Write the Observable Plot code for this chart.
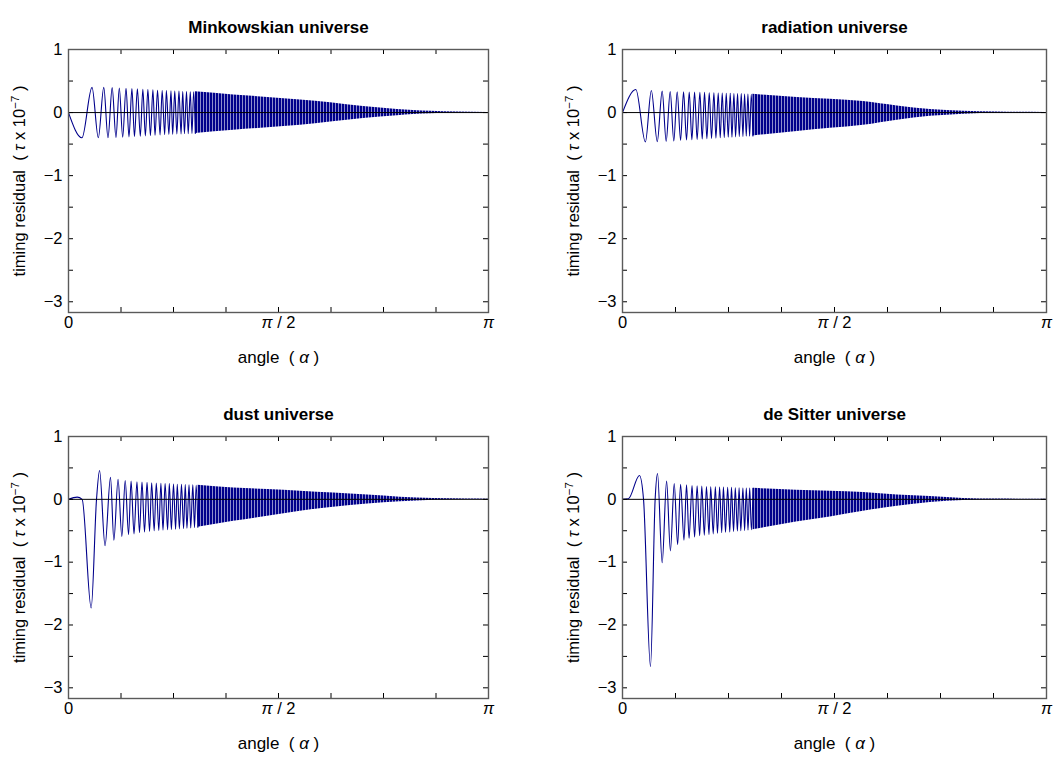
<!DOCTYPE html>
<html>
<head>
<meta charset="utf-8">
<script src="https://cdn.jsdelivr.net/npm/d3@7"></script>
<script src="https://cdn.jsdelivr.net/npm/@observablehq/plot@0.6"></script>
<style>
  html, body { margin: 0; padding: 0; background: #fff; }
  #chart { position: relative; width: 1055px; height: 761px; overflow: hidden; background: #fff; }
  #chart svg { position: absolute; }
</style>
</head>
<body>
<div id="chart"></div>
<script>
// ---------------- DATA (angles in units of π, residuals in units of 10^-7) ----------------
const panelTitles = ["Minkowskian universe", "radiation universe", "dust universe", "de Sitter universe"];
const xTitle = "angle\u00A0 (\u00A0α\u00A0)";
const yTitle = "timing residual\u00A0 (\u00A0τ x 10^−7\u00A0)";
const yMajorTicks = [-3, -2, -1, 0, 1];
const yMinorTicks = [-2.5, -1.5, -0.5, 0.5];
const xTickFractions = [0.125, 0.25, 0.375, 0.5, 0.625, 0.75, 0.875];
const xLabelFractions = [0, 0.5, 1];
const xLabelTexts = ["0", "π / 2", "π"];

// Minkowskian: resolvable extrema
const minkAngle = [0, 0.032, 0.056, 0.071, 0.084, 0.094, 0.104, 0.113, 0.121, 0.129, 0.137, 0.144, 0.151, 0.157, 0.164, 0.171, 0.177, 0.183, 0.189, 0.195, 0.201, 0.206, 0.212, 0.218, 0.223, 0.229, 0.233, 0.239, 0.244, 0.248, 0.253, 0.258, 0.263, 0.268, 0.272, 0.276, 0.281, 0.285, 0.290, 0.294, 0.298, 0.302];
const minkResidual = [0, -0.40, 0.40, -0.40, 0.40, -0.40, 0.395, -0.395, 0.39, -0.39, 0.385, -0.385, 0.38, -0.38, 0.375, -0.375, 0.37, -0.37, 0.365, -0.365, 0.36, -0.36, 0.355, -0.355, 0.35, -0.35, 0.35, -0.345, 0.345, -0.345, 0.34, -0.34, 0.34, -0.34, 0.335, -0.335, 0.335, -0.335, 0.33, -0.33, 0.33, -0.33];
// Minkowskian: envelope of the dense oscillation
const minkBandAngle = [0.302, 0.393, 0.474, 0.552, 0.624, 0.702, 0.783, 0.821, 0.862, 0.926, 1.0];
const minkBandUpper = [0.33, 0.28, 0.24, 0.20, 0.155, 0.095, 0.05, 0.032, 0.02, 0.008, 0.001];
const minkBandLower = [-0.33, -0.28, -0.24, -0.20, -0.15, -0.095, -0.05, -0.032, -0.02, -0.008, -0.001];

// radiation
const radAngle = [0, 0.0315, 0.054, 0.068, 0.082, 0.0936, 0.103, 0.1125, 0.121, 0.129, 0.137, 0.144, 0.151, 0.1574, 0.1636, 0.170, 0.176, 0.1825, 0.188, 0.1935, 0.199, 0.2046, 0.210, 0.2156, 0.2203, 0.2258, 0.2305, 0.2352, 0.240, 0.2447, 0.2494, 0.2541, 0.2581, 0.2628, 0.2667, 0.2714, 0.2754, 0.2801, 0.284, 0.288, 0.2919, 0.2958, 0.2998, 0.3037, 0.3076];
const radResidual = [0, 0.365, -0.465, 0.35, -0.46, 0.34, -0.455, 0.335, -0.45, 0.33, -0.44, 0.33, -0.435, 0.325, -0.43, 0.325, -0.425, 0.32, -0.42, 0.32, -0.415, 0.315, -0.41, 0.315, -0.405, 0.31, -0.40, 0.31, -0.395, 0.305, -0.39, 0.305, -0.39, 0.30, -0.385, 0.30, -0.38, 0.30, -0.38, 0.295, -0.375, 0.295, -0.375, 0.29, -0.37];
const radBandAngle = [0.3076, 0.412, 0.49, 0.568, 0.648, 0.726, 0.804, 0.884, 1.0];
const radBandUpper = [0.29, 0.24, 0.21, 0.175, 0.105, 0.05, 0.02, 0.008, 0.001];
const radBandLower = [-0.37, -0.30, -0.25, -0.20, -0.12, -0.06, -0.025, -0.01, -0.001];

// dust
const dustAngle = [0, 0.0206, 0.0325, 0.054, 0.0667, 0.074, 0.087, 0.100, 0.108, 0.118, 0.127, 0.135, 0.143, 0.149, 0.156, 0.163, 0.169, 0.175, 0.181, 0.187, 0.193, 0.198, 0.204, 0.209, 0.215, 0.220, 0.225, 0.230, 0.236, 0.240, 0.245, 0.250, 0.255, 0.259, 0.264, 0.269, 0.274, 0.278, 0.282, 0.287, 0.291, 0.296, 0.300, 0.304, 0.308];
const dustResidual = [0, 0.035, 0, -1.73, 0, 0.46, -0.74, 0.35, -0.65, 0.32, -0.59, 0.30, -0.56, 0.29, -0.55, 0.28, -0.53, 0.275, -0.52, 0.27, -0.51, 0.265, -0.50, 0.26, -0.495, 0.255, -0.49, 0.25, -0.485, 0.25, -0.48, 0.245, -0.475, 0.24, -0.47, 0.24, -0.465, 0.235, -0.46, 0.23, -0.455, 0.23, -0.45, 0.225, -0.445];
const dustBandAngle = [0.308, 0.393, 0.474, 0.552, 0.631, 0.712, 0.79, 0.869, 0.95, 1.0];
const dustBandUpper = [0.225, 0.18, 0.155, 0.13, 0.10, 0.07, 0.035, 0.012, 0.004, 0.001];
const dustBandLower = [-0.445, -0.35, -0.27, -0.19, -0.125, -0.075, -0.04, -0.015, -0.004, -0.001];

// de Sitter
const dsAngle = [0, 0.014, 0.040, 0.0496, 0.066, 0.077, 0.0826, 0.0936, 0.104, 0.113, 0.122, 0.130, 0.137, 0.145, 0.151, 0.157, 0.164, 0.170, 0.176, 0.182, 0.187, 0.193, 0.198, 0.204, 0.208, 0.214, 0.219, 0.224, 0.229, 0.234, 0.238, 0.243, 0.248, 0.253, 0.257, 0.262, 0.266, 0.271, 0.275, 0.279, 0.284, 0.288, 0.292, 0.296, 0.300, 0.304, 0.308];
const dsResidual = [0, 0.01, 0.38, 0, -2.66, 0, 0.41, -1.01, 0.29, -0.82, 0.25, -0.72, 0.24, -0.65, 0.23, -0.62, 0.22, -0.60, 0.215, -0.58, 0.21, -0.57, 0.205, -0.56, 0.20, -0.55, 0.20, -0.54, 0.195, -0.53, 0.195, -0.525, 0.19, -0.52, 0.19, -0.51, 0.185, -0.505, 0.185, -0.50, 0.18, -0.495, 0.18, -0.49, 0.18, -0.485, 0.175];
const dsBandAngle = [0.308, 0.41, 0.49, 0.568, 0.648, 0.726, 0.804, 0.88, 1.0];
const dsBandUpper = [0.175, 0.145, 0.13, 0.11, 0.07, 0.045, 0.015, 0.005, 0.001];
const dsBandLower = [-0.485, -0.36, -0.28, -0.19, -0.11, -0.05, -0.02, -0.006, -0.001];

// ---------------- BUILD ----------------
const NAVY = "#00008b";
const FONT = "'Liberation Sans', Arial, Helvetica, sans-serif";
const SVGNS = "http://www.w3.org/2000/svg";
const zipCurve = (a, r) => a.map((f, i) => ({f, v: r[i]}));
const zipBand = (a, u, l) => a.map((f, i) => ({f, u: u[i], l: l[i]}));
const fmt = d => d < 0 ? "\u2212" + Math.abs(d) : String(d);

const panels = [
  {title: panelTitles[0], curve: zipCurve(minkAngle, minkResidual), band: zipBand(minkBandAngle, minkBandUpper, minkBandLower), left: 0, top: 0, width: 527, height: 380, ml: 68, mr: 39, mt: 49, mb: 68},
  {title: panelTitles[1], curve: zipCurve(radAngle, radResidual), band: zipBand(radBandAngle, radBandUpper, radBandLower), left: 527, top: 0, width: 528, height: 380, ml: 95, mr: 9, mt: 49, mb: 68},
  {title: panelTitles[2], curve: zipCurve(dustAngle, dustResidual), band: zipBand(dustBandAngle, dustBandUpper, dustBandLower), left: 0, top: 380, width: 527, height: 381, ml: 68, mr: 39, mt: 56, mb: 63},
  {title: panelTitles[3], curve: zipCurve(dsAngle, dsResidual), band: zipBand(dsBandAngle, dsBandUpper, dsBandLower), left: 527, top: 380, width: 528, height: 381, ml: 95, mr: 9, mt: 56, mb: 63}
];

function richify(svg) {
  for (const t of svg.querySelectorAll("text")) {
    if (t.querySelector("tspan")) continue;
    const s = t.textContent;
    if (!/[απτ^]/.test(s)) continue;
    const parts = s.split(/(\^[^\s)]+|[απτ])/);
    t.textContent = "";
    let pendingDy = 0;
    for (const p of parts) {
      if (!p) continue;
      const ts = document.createElementNS(SVGNS, "tspan");
      if (p[0] === "^") {
        ts.textContent = p.slice(1);
        ts.setAttribute("font-size", "11.5");
        ts.setAttribute("dy", "-6");
        pendingDy = 6;
      } else {
        ts.textContent = p;
        if (/^[απτ]$/.test(p)) ts.setAttribute("font-style", "italic");
        if (pendingDy) { ts.setAttribute("dy", String(pendingDy)); pendingDy = 0; }
      }
      t.appendChild(ts);
    }
  }
}

function addHatch(svg, id) {
  // fine vertical hatching imitating the densely packed oscillation strokes
  const defs = document.createElementNS(SVGNS, "defs");
  const pat = document.createElementNS(SVGNS, "pattern");
  pat.setAttribute("id", id);
  pat.setAttribute("patternUnits", "userSpaceOnUse");
  pat.setAttribute("width", "3");
  pat.setAttribute("height", "20");
  const r1 = document.createElementNS(SVGNS, "rect");
  r1.setAttribute("width", "3"); r1.setAttribute("height", "20"); r1.setAttribute("fill", NAVY);
  const r2 = document.createElementNS(SVGNS, "rect");
  r2.setAttribute("x", "2"); r2.setAttribute("width", "1"); r2.setAttribute("height", "20");
  r2.setAttribute("fill", "#fff"); r2.setAttribute("fill-opacity", "0.55");
  pat.appendChild(r1); pat.appendChild(r2); defs.appendChild(pat);
  svg.insertBefore(defs, svg.firstChild);
}

const root = document.getElementById("chart");
panels.forEach((p, k) => {
  const W = p.width - p.ml - p.mr;
  const H = p.height - p.mt - p.mb;
  const hatchId = "hatch" + k;
  const svg = Plot.plot({
    width: p.width, height: p.height,
    marginLeft: p.ml, marginRight: p.mr, marginTop: p.mt, marginBottom: p.mb,
    x: {domain: [0, Math.PI], axis: null},
    y: {domain: [-3.17, 1], axis: null},
    style: {fontFamily: FONT, color: "#000", background: "transparent", overflow: "visible"},
    marks: [
      Plot.areaY(p.band, {x: d => d.f * Math.PI, y1: "l", y2: "u", fill: `url(#${hatchId})`, curve: "monotone-x"}),
      Plot.line(p.curve, {x: d => d.f * Math.PI, y: "v", curve: "monotone-x", stroke: NAVY, strokeWidth: 1.1}),
      Plot.ruleY([0], {stroke: "#000", strokeWidth: 1}),
      // y ticks, left and right, pointing inward
      Plot.tickY([...yMajorTicks, ...yMinorTicks], {y: d => d, insetRight: W - 5, stroke: "#000"}),
      Plot.tickY([...yMajorTicks, ...yMinorTicks], {y: d => d, insetLeft: W - 5, stroke: "#000"}),
      // x ticks, top and bottom, pointing inward
      Plot.tickX(xTickFractions, {x: d => d * Math.PI, insetBottom: H - 5, stroke: "#000"}),
      Plot.tickX(xTickFractions, {x: d => d * Math.PI, insetTop: H - 5, stroke: "#000"}),
      Plot.frame({stroke: "#5a5a5a", strokeWidth: 1.4}),
      // tick labels
      Plot.text(yMajorTicks, {y: d => d, frameAnchor: "left", dx: -6, textAnchor: "end", text: fmt, fontSize: 16.5, fill: "#000"}),
      Plot.text(xLabelFractions, {x: d => d * Math.PI, frameAnchor: "bottom", dy: 15, text: (d, i) => xLabelTexts[i], fontSize: 16.5, fill: "#000"}),
      // axis titles and panel title
      Plot.text([xTitle], {frameAnchor: "bottom", dy: 50, text: d => d, fontSize: 17, fill: "#000"}),
      Plot.text([yTitle], {frameAnchor: "left", dx: -48.5, rotate: -90, textAnchor: "middle", text: d => d, fontSize: 16.5, fill: "#000"}),
      Plot.text([p.title], {frameAnchor: "top", dy: -29, text: d => d, fontSize: 17, fontWeight: "bold", fill: "#000"})
    ]
  });
  addHatch(svg, hatchId);
  richify(svg);
  svg.style.left = p.left + "px";
  svg.style.top = p.top + "px";
  root.appendChild(svg);
});
</script>
</body>
</html>
